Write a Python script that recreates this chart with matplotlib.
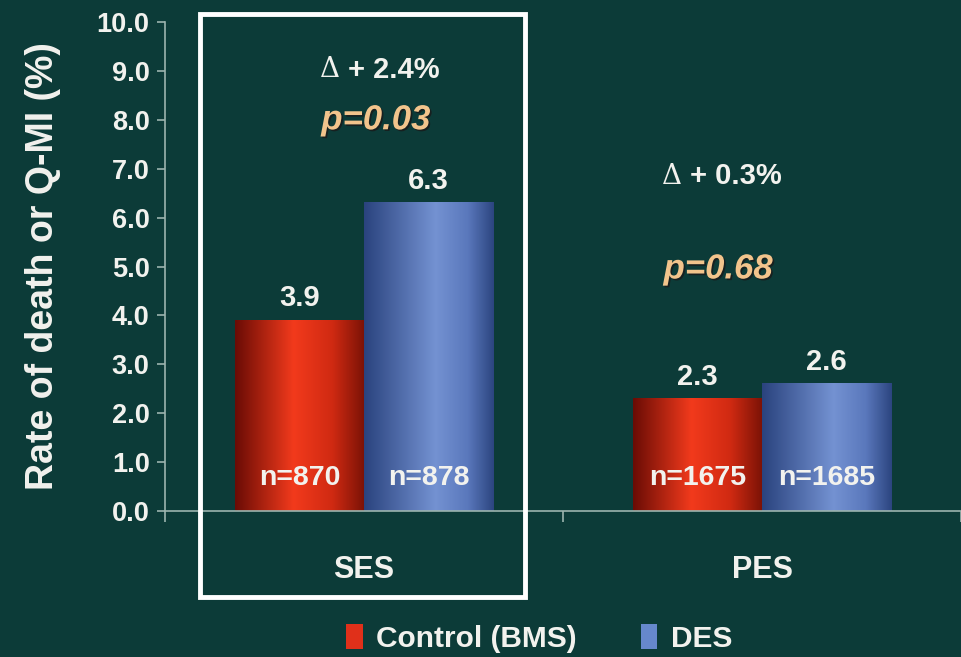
import matplotlib.pyplot as plt
import numpy as np
import matplotlib.patheffects as pe
from matplotlib.colors import LinearSegmentedColormap
from matplotlib.patches import Rectangle, Patch

# data
groups = ['SES', 'PES']
control = [3.9, 2.3]
des = [6.3, 2.6]
n_control = ['n=870', 'n=1675']
n_des = ['n=878', 'n=1685']
deltas = ['+ 2.4%', '+ 0.3%']
pvalues = ['p=0.03', 'p=0.68']
yticks = np.arange(0, 10.1, 1.0)

bg = '#0c3b38'
txt = '#f2f2ee'
axcol = '#9cb4ae'
plt.rcParams['font.family'] = ['Liberation Sans', 'DejaVu Sans']
plt.rcParams['font.weight'] = 'bold'
plt.rcParams['axes.labelweight'] = 'bold'

red_cmap = LinearSegmentedColormap.from_list(
    'red', [(0, '#6a0c05'), (0.45, '#f23a1c'), (0.75, '#d02a12'), (1, '#7a1206')])
blue_cmap = LinearSegmentedColormap.from_list(
    'blue', [(0, '#2a437e'), (0.55, '#7492d2'), (0.8, '#5a78bc'), (1, '#2c4580')])

fig = plt.figure(figsize=(9.61, 6.57), dpi=100, facecolor=bg)
ax = fig.add_axes([0.1717, 0.2222, 0.8283, 0.7443], facecolor=bg)

x = np.arange(len(groups))
w = 0.325
bars_c = ax.bar(x - w / 2, control, w, color='none', zorder=3)
bars_d = ax.bar(x + w / 2, des, w, color='none', zorder=3)

# horizontal gradient fill for each bar
grad = np.linspace(0, 1, 256).reshape(1, -1)
for bars, cmap in [(bars_c, red_cmap), (bars_d, blue_cmap)]:
    for b in bars:
        bx, by, bw, bh = b.get_x(), b.get_y(), b.get_width(), b.get_height()
        ax.imshow(grad, cmap=cmap, aspect='auto', extent=[bx, bx + bw, by, by + bh],
                  zorder=2, interpolation='bicubic')

ax.set_xlim(-0.5, 1.5)
ax.set_ylim(0, 10)

# value labels and sample sizes
for bars, vals, ns in [(bars_c, control, n_control), (bars_d, des, n_des)]:
    for b, v, n in zip(bars, vals, ns):
        cx = b.get_x() + b.get_width() / 2
        ax.text(cx, v + 0.45, f'{v:.1f}', ha='center', va='center', color=txt, fontsize=21)
        ax.text(cx, 0.67, n, ha='center', va='center', color=txt, fontsize=20.5)

# delta and p-value annotations (thin delta sign like the slide)
shadow = [pe.withSimplePatchShadow(offset=(1.2, -1.2), shadow_rgbFace='#1a1a1a', alpha=0.8)]
delta_pos = [(0.075, 9.02), (0.935, 6.85)]
p_pos = [(0.03, 8.0), (0.89, 4.95)]
for d, p, dp, pp in zip(deltas, pvalues, delta_pos, p_pos):
    t = ax.text(dp[0], dp[1], d, ha='center', va='center', color=txt, fontsize=21)
    ax.annotate('\u0394', xy=(0, 0.5), xycoords=t, xytext=(-6, 0), textcoords='offset points',
                ha='right', va='center', color=txt, fontsize=20, fontweight='normal',
                family='DejaVu Serif')
    ax.text(pp[0], pp[1], p, ha='center', va='center', color='#f2c48c', fontsize=25,
            style='italic', path_effects=shadow)

# white frame around the SES group
ax.add_patch(Rectangle((-0.4125, -1.76), 0.8175, 11.92, fill=False, ec='white',
                       lw=3.5, clip_on=False, zorder=5))

# axes styling
ax.set_yticks(yticks)
ax.set_yticklabels([f'{t:.1f}' for t in yticks])
ax.set_xticks([-0.5, 0.5, 1.5])
ax.set_xticklabels([])
ax.tick_params(axis='y', colors=axcol, labelcolor=txt, labelsize=19.5, length=6, width=1.2, pad=5)
ax.tick_params(axis='x', colors=axcol, length=8, width=1.2, direction='out')
for s in ['top', 'right']:
    ax.spines[s].set_visible(False)
for s in ['left', 'bottom']:
    ax.spines[s].set_color(axcol)
    ax.spines[s].set_linewidth(1.2)

for xi, g in zip(x, groups):
    ax.text(xi, -1.2, g, ha='center', va='center', color=txt, fontsize=22)

ax.set_ylabel('Rate of death or Q-MI (%)', color=txt, fontsize=27, labelpad=26)

handles = [Patch(facecolor='#e0301a', label='Control (BMS)'),
           Patch(facecolor='#6688cc', label='DES')]
leg = fig.legend(handles=handles, loc='center', bbox_to_anchor=(0.561, 0.028), ncol=2,
                 frameon=False, fontsize=21.5, handlelength=0.55, handleheight=0.9,
                 handletextpad=0.45, columnspacing=2.15)
for t in leg.get_texts():
    t.set_color(txt)

fig.savefig('out.png', dpi=100, facecolor=bg)
